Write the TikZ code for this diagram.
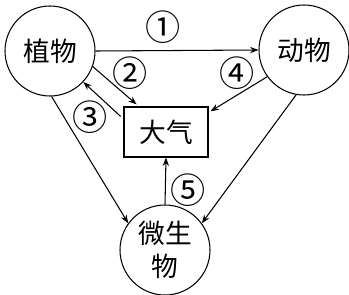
\documentclass[tikz,border=0pt]{standalone}
\usepackage{fontspec}
\setmainfont{Noto Sans CJK SC}
\usetikzlibrary{arrows.meta}

\begin{document}
\begin{tikzpicture}[
        organism/.style={draw, circle, minimum size=2.25cm, inner sep=0pt, line width=0.75pt, font=\fontsize{19}{23}\selectfont, align=center},
        air/.style={draw, rectangle, minimum width=2.1cm, minimum height=1.25cm, line width=0.75pt, font=\fontsize{19}{23}\selectfont},
        num/.style={font=\fontsize{25}{28}\selectfont, inner sep=0pt},
        arrow/.style={-{Stealth[length=6pt,width=4.5pt]}, line width=0.75pt}
    ]
        \useasboundingbox (0,0) rectangle (8.725,7.35);

        % Organisms & atmosphere
        \node[organism] (plant) at (1.25, 6.075) {植物};
        \node[organism] (animal) at (7.6, 6.1) {动物};
        \node[organism] (microbe) at (4.125, 1.1) {微生\\物};
        \node[air] (atmo) at (4.15, 4.05) {大气};

        % Connections
        \draw[arrow] (plant.east) -- (animal.west);
        \draw[arrow] (plant.-20) -- ([xshift=0.33cm, yshift=0.05cm]atmo.north west);
        \draw[arrow] ([xshift=-0.07cm, yshift=-0.25cm]atmo.north west) -- (plant.-43);
        \draw[arrow] (animal.-144) -- ([xshift=0.05cm, yshift=-0.12cm]atmo.north east);
        \draw[arrow] (plant.-88) -- (microbe.144);
        \draw[arrow] (animal.-100) -- (microbe.36);
        \draw[arrow] (microbe.north) -- (atmo.south);

        % Process numbers
        \node[num] (n1) at (4.075, 6.675) {①};
        \node[num] (n2) at (3.25, 5.525) {②};
        \node[num] (n3) at (2.25, 4.425) {③};
        \node[num] (n4) at (5.925, 5.525) {④};
        \node[num] (n5) at (4.7, 2.6) {⑤};
    \end{tikzpicture}
\end{document}
